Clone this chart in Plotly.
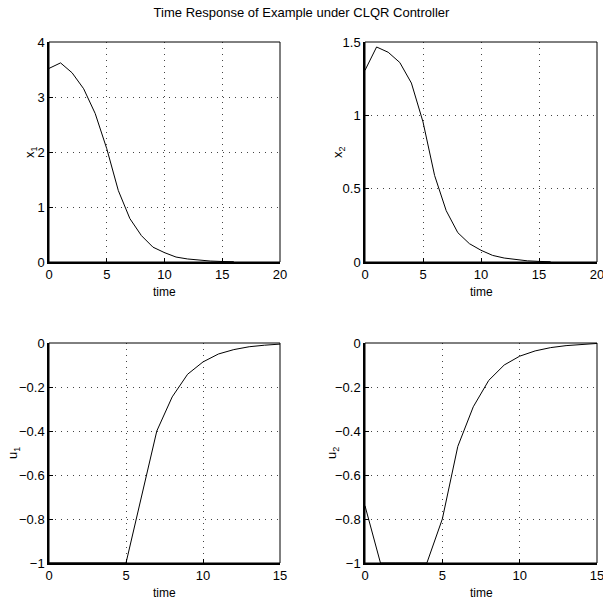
import plotly.graph_objects as go

t_state = list(range(0, 17))
x1 = [3.52, 3.62, 3.44, 3.15, 2.70, 2.06, 1.30, 0.79, 0.48, 0.27, 0.17, 0.09, 0.055, 0.03, 0.017, 0.009, 0.005]
x2 = [1.307, 1.466, 1.43, 1.36, 1.22, 0.955, 0.59, 0.35, 0.20, 0.125, 0.08, 0.045, 0.027, 0.015, 0.008, 0.004, 0.002]

t_ctrl = list(range(0, 16))
u1 = [-1, -1, -1, -1, -1, -1, -0.70, -0.40, -0.245, -0.142, -0.086, -0.05, -0.03, -0.017, -0.01, -0.005]
u2 = [-0.74, -1, -1, -1, -1, -0.80, -0.47, -0.29, -0.17, -0.10, -0.06, -0.036, -0.021, -0.012, -0.006, -0.002]

title_text = "Time Response of Example under CLQR Controller"
xlabel = "time"
ylabels = ["x<sub>1</sub>", "x<sub>2</sub>", "u<sub>1</sub>", "u<sub>2</sub>"]

W, H = 603, 601
FONT = "Liberation Sans, Arial, Helvetica, sans-serif"

# window pixel boxes (left, right, top, bottom)
boxes = [(49, 280, 42, 262), (365, 597, 42, 262), (49, 280, 343, 563), (365, 597, 343, 563)]
ylabel_x = [30, 338, 13, 332]

fig = go.Figure()
series = [(t_state, x1), (t_state, x2), (t_ctrl, u1), (t_ctrl, u2)]
xranges = [[0, 20], [0, 20], [0, 15], [0, 15]]
yranges = [[0, 4], [0, 1.5], [-1, 0], [-1, 0]]
ydticks = [1, 0.5, 0.2, 0.2]

annotations = []
for i, ((tx, yy), box) in enumerate(zip(series, boxes)):
    n = "" if i == 0 else str(i + 1)
    fig.add_trace(go.Scatter(x=tx, y=yy, mode="lines", line=dict(color="black", width=1),
                             xaxis="x" + n, yaxis="y" + n, showlegend=False, hoverinfo="skip"))
    l, r, tp, b = box
    common = dict(showline=True, linecolor="black", linewidth=1.5, ticks="inside", ticklen=4,
                  tickcolor="black", showgrid=True, gridcolor="#444444", griddash="1px,5px", gridwidth=1,
                  zeroline=False, tickfont=dict(size=13, color="black", family=FONT),
                  fixedrange=True, automargin=False, ticklabeloverflow="allow")
    fig.update_layout(**{
        "xaxis" + n: dict(domain=[l / W, r / W], anchor="y" + n, range=xranges[i], dtick=5, **common),
        "yaxis" + n: dict(domain=[1 - b / H, 1 - tp / H], anchor="x" + n, range=yranges[i],
                          dtick=ydticks[i], **common),
    })
    fig.add_shape(type="rect", xref="x" + n + " domain", yref="y" + n + " domain",
                  x0=0, x1=1, y0=0, y1=1, line=dict(color="black", width=1), layer="above")
    annotations.append(dict(text=xlabel, xref="paper", yref="paper", x=(l + r) / 2 / W,
                            y=1 - (b + 30) / H, xanchor="center", yanchor="middle", showarrow=False,
                            font=dict(size=12, color="black", family=FONT)))
    annotations.append(dict(text=ylabels[i], xref="paper", yref="paper", x=ylabel_x[i] / W,
                            y=1 - (tp + b) / 2 / H, xanchor="center", yanchor="middle", showarrow=False,
                            textangle=-90, font=dict(size=13, color="black", family=FONT)))

fig.update_layout(
    width=W, height=H, margin=dict(l=0, r=0, t=0, b=0, autoexpand=False),
    paper_bgcolor="white", plot_bgcolor="white",
    font=dict(family=FONT, color="black"),
    title=dict(text=title_text, x=0.5, xanchor="center", y=1 - 12 / H, yanchor="middle",
               font=dict(size=13, color="black", family=FONT)),
    annotations=annotations,
)

fig.write_html("out.html", config={"displayModeBar": False},
               post_script="document.body.style.margin='0';document.body.style.overflow='hidden';")
